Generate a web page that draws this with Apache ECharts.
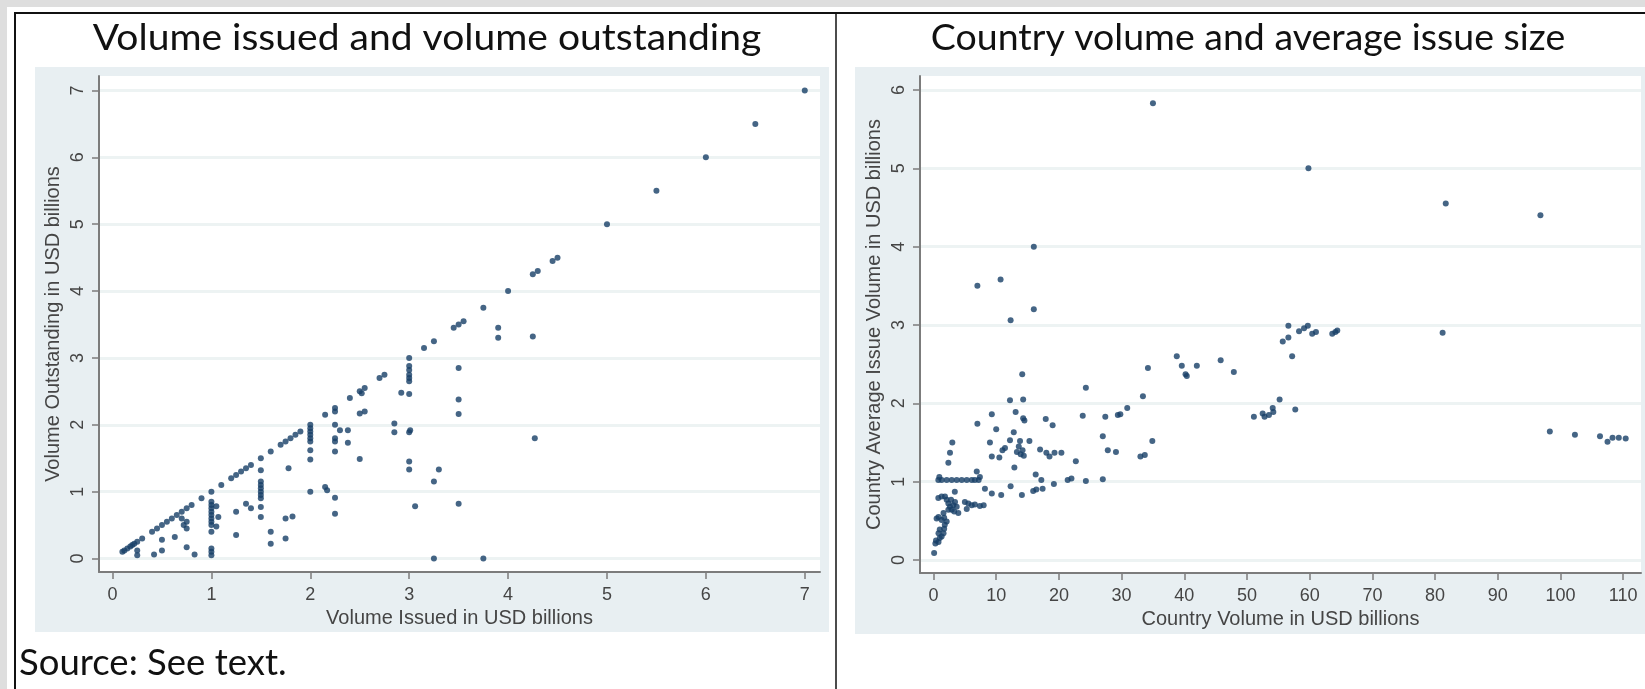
<!DOCTYPE html>
<html>
<head>
<meta charset="utf-8">
<script src="https://cdn.jsdelivr.net/npm/echarts@6.0.0/dist/echarts.min.js"></script>
<style>
html,body{margin:0;padding:0;background:#fff;}
#chart{width:1645px;height:689px;}
</style>
</head>
<body>
<div id="chart"></div>
<script>
// ---- Left panel: volume issued vs volume outstanding (USD billions) ----
const issuedVolume = [
  0.1,0.12,0.15,0.18,0.2,0.22,0.25,0.3,0.4,0.45,0.5,0.55,0.6,0.65,0.7,0.75,0.8,0.9,1.0,1.1,1.2,1.25,1.3,1.35,1.4,1.5,1.6,1.7,1.75,1.8,1.85,1.9,2.0,2.15,2.25,2.4,2.5,2.55,2.7,2.75,3.0,3.15,3.25,3.45,3.5,3.55,3.75,4.0,4.25,4.3,4.45,4.5,5,5.5,6,6.5,7,
  0.25,0.25,0.42,0.5,0.5,0.63,0.7,0.72,0.75,0.75,0.75,0.83,
  1,1,1,1,1,1,1,1,1,1,1,1,1.05,1.07,1.05,
  1.25,1.25,1.35,1.4,
  1.5,1.5,1.5,1.5,1.5,1.5,1.5,1.5,1.5,
  1.6,1.6,1.75,1.82,1.75,1.78,
  2,2,2,2,2,2,2,2,
  2.15,2.17,2.25,2.25,2.25,2.25,2.25,2.25,2.25,2.3,2.38,2.38,2.5,2.5,2.55,2.52,
  3,3,3,3,3,2.92,3,2.85,2.85,3,3.01,3,3,3.06,
  3.25,3.3,3.25,3.75,
  3.5,3.5,3.5,3.5,
  3.9,3.9,4.25,4.27
];
const outstandingVolume = [
  0.1,0.12,0.15,0.18,0.2,0.22,0.25,0.3,0.4,0.45,0.5,0.55,0.6,0.65,0.7,0.75,0.8,0.9,1.0,1.1,1.2,1.25,1.3,1.35,1.4,1.5,1.6,1.7,1.75,1.8,1.85,1.9,2.0,2.15,2.25,2.4,2.5,2.55,2.7,2.75,3.0,3.15,3.25,3.45,3.5,3.55,3.75,4.0,4.25,4.3,4.45,4.5,5,5.5,6,6.5,7,
  0.05,0.12,0.06,0.12,0.28,0.32,0.6,0.5,0.45,0.55,0.17,0.06,
  0.85,0.8,0.75,0.7,0.65,0.6,0.55,0.5,0.4,0.15,0.1,0.05,0.78,0.62,0.48,
  0.7,0.35,0.82,0.75,
  1.32,1.15,1.1,1.05,1.0,0.95,0.9,0.77,0.62,
  0.4,0.22,0.6,0.63,0.3,1.35,
  1.95,1.9,1.85,1.8,1.75,1.62,1.48,1.0,
  1.07,1.02,0.91,0.67,2.2,2.0,1.8,1.75,1.6,1.92,1.92,1.73,1.49,2.17,2.2,2.47,
  2.88,2.82,2.75,2.7,2.65,2.48,2.46,2.02,1.89,1.89,1.92,1.45,1.33,0.78,
  1.15,1.33,0,0,
  2.85,2.38,2.16,0.82,
  3.45,3.3,3.32,1.8
];

// ---- Right panel: country volume vs country average issue size (USD billions) ----
const countryVolume = [
  35.0,59.8,81.7,96.8,16.0,7.0,10.7,12.3,16.0,81.2,
  55.7,56.6,56.6,58.3,59.1,59.7,60.4,61.0,63.6,64.1,64.4,57.2,
  14.15,12.2,14.3,9.3,7.0,13.1,14.3,14.5,17.9,19.0,10.0,9.0,12.8,12.2,13.8,15.3,11.4,11.0,13.3,13.9,14.4,13.6,14.2,9.3,10.5,17.0,18.0,18.5,19.3,20.4,12.9,16.3,17.2,12.3,14.1,9.3,10.8,8.2,15.9,16.4,17.4,19.2,21.4,22.0,22.7,24.3,23.8,24.3,27.0,27.8,29.1,27.0,27.4,29.4,29.8,30.9,33.4,34.2,34.9,33.0,33.7,
  38.8,39.6,40.2,40.4,42.0,45.8,47.9,
  51.1,52.5,52.8,53.5,54.2,54.1,55.2,57.7,
  98.3,102.3,106.3,107.5,108.3,109.3,110.4,
  0.1,0.3,0.4,0.8,1.0,1.3,1.6,0.8,1.0,1.7,1.8,0.5,0.8,1.3,1.7,1.6,2.1,
  2.1,2.37,2.63,2.9,3.16,3.43,3.7,2.37,2.8,3.3,3.96,1.83,0.77,1.3,3.4,
  5.0,5.56,6.1,6.6,7.4,8.0,5.3,
  0.77,1.3,2.1,2.9,3.7,4.5,5.3,6.1,6.6,7.2,0.93,6.9,7.4,
  2.37,2.63,3.0
];
const avgIssueSize = [
  5.83,5.0,4.55,4.4,4.0,3.5,3.58,3.06,3.2,2.9,
  2.79,2.84,2.99,2.92,2.96,2.99,2.89,2.91,2.89,2.91,2.93,2.6,
  2.37,2.04,2.05,1.86,1.74,1.89,1.81,1.78,1.8,1.72,1.67,1.5,1.63,1.53,1.52,1.52,1.43,1.4,1.38,1.35,1.33,1.45,1.4,1.32,1.31,1.41,1.37,1.32,1.37,1.37,1.18,1.09,1.02,0.94,0.83,0.85,0.83,0.91,0.88,0.9,0.91,0.97,1.02,1.04,1.26,1.01,1.84,2.2,1.58,1.4,1.38,1.03,1.83,1.85,1.86,1.94,2.09,2.45,1.52,1.32,1.34,
  2.6,2.48,2.37,2.35,2.48,2.55,2.4,
  1.83,1.87,1.83,1.85,1.89,1.94,2.05,1.92,
  1.64,1.6,1.58,1.51,1.56,1.56,1.55,
  0.09,0.21,0.25,0.23,0.28,0.3,0.34,0.34,0.39,0.4,0.45,0.53,0.55,0.51,0.54,0.6,0.49,
  0.77,0.72,0.68,0.64,0.7,0.74,0.68,0.64,0.77,0.62,0.6,0.81,0.79,0.81,0.87,
  0.74,0.72,0.7,0.71,0.69,0.7,0.65,
  1.02,1.02,1.02,1.02,1.02,1.02,1.02,1.02,1.02,1.02,1.06,1.13,1.06,
  1.24,1.37,1.5
];

// ---- Tick labels ----
const leftXTicks = [0,1,2,3,4,5,6,7];
const leftYTicks = [0,1,2,3,4,5,6,7];
const rightXTicks = [0,10,20,30,40,50,60,70,80,90,100,110];
const rightYTicks = [0,1,2,3,4,5,6];

const titles = ['Volume issued and volume outstanding', 'Country volume and average issue size'];
const axisNames = {
  leftX: 'Volume Issued in USD billions',
  leftY: 'Volume Outstanding in USD billions',
  rightX: 'Country Volume in USD billions',
  rightY: 'Country Average Issue Volume in USD billions'
};
const sourceNote = 'Source: See text.';

const DOT = '#173f66';
const AXIS = '#7c7c7c';
const LABEL = '#454545';
const GRIDLINE = '#edf3f3';
const PANEL = '#e8eff2';
const FONT = 'Liberation Sans, Arial, sans-serif';

function xAxisCfg(gridIndex, min, max, ticks, name, gap) {
  return {
    type: 'value', gridIndex, min, max,
    axisLine: { show: true, onZero: false, lineStyle: { color: AXIS, width: 2 } },
    axisTick: { show: true, length: 7, customValues: ticks, lineStyle: { color: AXIS, width: 1.5 } },
    axisLabel: { customValues: ticks, margin: 14, fontSize: 18, color: LABEL, fontFamily: FONT },
    splitLine: { show: false },
    name, nameLocation: 'middle', nameGap: gap,
    nameTextStyle: { fontSize: 20, color: LABEL, fontFamily: FONT }
  };
}
function yAxisCfg(gridIndex, min, max, ticks, name, gap) {
  return {
    type: 'value', gridIndex, min, max,
    axisLine: { show: true, onZero: false, lineStyle: { color: AXIS, width: 2 } },
    axisTick: { show: true, length: 7, customValues: ticks, lineStyle: { color: AXIS, width: 1.5 } },
    axisLabel: { customValues: ticks, rotate: 90, margin: 12, fontSize: 18, color: LABEL, fontFamily: FONT },
    splitLine: { show: true, lineStyle: { color: GRIDLINE, width: 3 } },
    name, nameLocation: 'middle', nameGap: gap,
    nameTextStyle: { fontSize: 20, color: LABEL, fontFamily: FONT }
  };
}

const chart = echarts.init(document.getElementById('chart'), null, { renderer: 'canvas' });
chart.setOption({
  animation: false,
  backgroundColor: '#ffffff',
  graphic: [
    { type: 'rect', z: -20, shape: { x: 0, y: 0, width: 1645, height: 7 }, style: { fill: '#dedede' } },
    { type: 'rect', z: -20, shape: { x: 0, y: 0, width: 7, height: 689 }, style: { fill: '#dedede' } },
    { type: 'rect', z: -20, shape: { x: 35, y: 67, width: 794, height: 565 }, style: { fill: PANEL } },
    { type: 'rect', z: -20, shape: { x: 855, y: 67, width: 790, height: 567 }, style: { fill: PANEL } },
    { type: 'line', z: 10, shape: { x1: 14, y1: 13, x2: 1645, y2: 13 }, style: { stroke: '#111', lineWidth: 2 } },
    { type: 'line', z: 10, shape: { x1: 15, y1: 12, x2: 15, y2: 689 }, style: { stroke: '#111', lineWidth: 2 } },
    { type: 'line', z: 10, shape: { x1: 836, y1: 12, x2: 836, y2: 689 }, style: { stroke: '#111', lineWidth: 1.5 } },
    { type: 'text', z: 10, x: 427, y: 20, scaleX: 1.055, style: { text: titles[0], fill: '#111', fontSize: 37, fontFamily: 'Lato', align: 'center', verticalAlign: 'top' } },
    { type: 'text', z: 10, x: 1248, y: 20, scaleX: 1.013, style: { text: titles[1], fill: '#111', fontSize: 37, fontFamily: 'Lato', align: 'center', verticalAlign: 'top' } },
    { type: 'text', z: 10, x: 19, y: 645, style: { text: sourceNote, fill: '#111', fontSize: 36.5, fontFamily: 'Lato', align: 'left', verticalAlign: 'top' } }
  ],
  grid: [
    { left: 99, top: 76, width: 721, height: 496, show: true, backgroundColor: '#ffffff', borderWidth: 0 },
    { left: 920, top: 76, width: 721, height: 497, show: true, backgroundColor: '#ffffff', borderWidth: 0 }
  ],
  xAxis: [
    xAxisCfg(0, -0.1365, 7.154, leftXTicks, axisNames.leftX, 33),
    xAxisCfg(1, -2.153, 112.84, rightXTicks, axisNames.rightX, 33)
  ],
  yAxis: [
    yAxisCfg(0, -0.202, 7.217, leftYTicks, axisNames.leftY, 36),
    yAxisCfg(1, -0.166, 6.179, rightYTicks, axisNames.rightY, 36)
  ],
  series: [
    {
      type: 'scatter', xAxisIndex: 0, yAxisIndex: 0, symbol: 'circle', symbolSize: 6,
      itemStyle: { color: DOT }, clip: false,
      data: issuedVolume.map((v, i) => [v, outstandingVolume[i]])
    },
    {
      type: 'scatter', xAxisIndex: 1, yAxisIndex: 1, symbol: 'circle', symbolSize: 6,
      itemStyle: { color: DOT }, clip: false,
      data: countryVolume.map((v, i) => [v, avgIssueSize[i]])
    }
  ]
});
</script>
</body>
</html>
